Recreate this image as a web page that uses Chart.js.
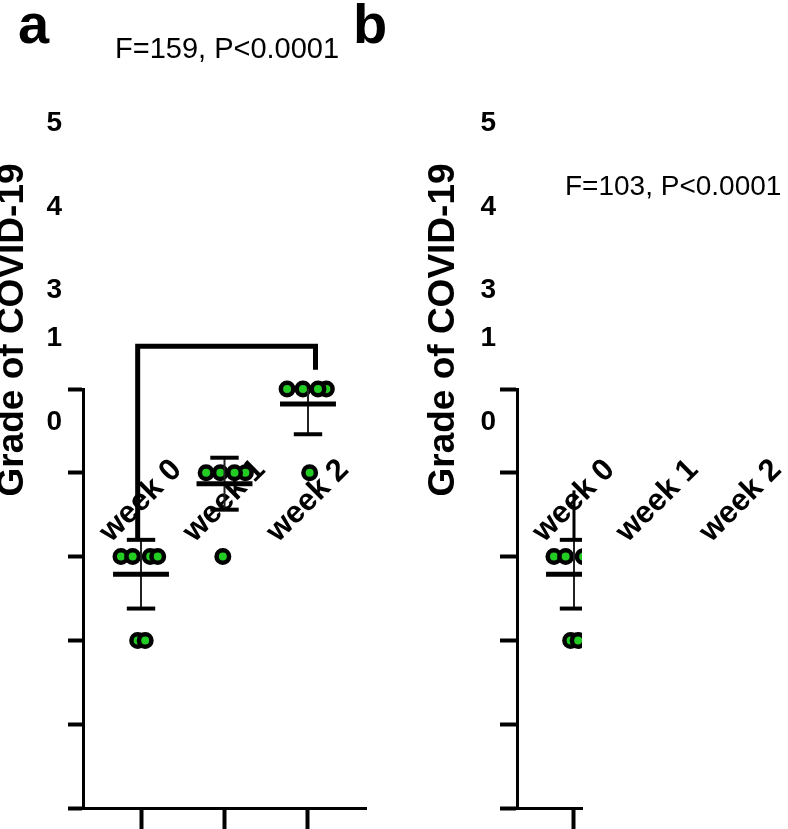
<!DOCTYPE html>
<html>
<head>
<meta charset="utf-8">
<title>Grade of COVID-19</title>
<script src="https://cdn.jsdelivr.net/npm/chart.js@4.4.1/dist/chart.umd.min.js"></script>
<style>
  html, body { margin: 0; padding: 0; background: #fff; }
  #wrap { position: relative; width: 788px; height: 829px; }
  #wrap canvas { position: absolute; left: 0; top: 0; }
</style>
</head>
<body>
<div id="wrap">
  <canvas id="panelA" width="788" height="829"></canvas>
  <canvas id="panelB" width="788" height="829"></canvas>
</div>
<script>
const weeks = ['week 0', 'week 1', 'week 2'];
// grade of each patient dot per week (overlapping dots as far as they can be seen)
const grades = [
    [3, 3, 3, 3, 2, 2],
    [4, 4, 4, 4, 3],
    [5, 5, 5, 5, 4]
];
// horizontal spread of each dot around its week, in week units
const jitter = [
    [-0.24, -0.10, 0.11, 0.20, -0.04, 0.05],
    [-0.22, -0.05, 0.25, 0.12, -0.02],
    [-0.25, -0.06, 0.22, 0.12, 0.02]
];
const means = [2.79, 3.87, 4.82];
const sds = [0.41, 0.31, 0.36];
const yTicksUpper = [5, 4, 3];
const yTicksLower = [1, 0];
// bracket between week 0 and week 2 (x in week units, y in grades)
const bracketX = [-0.04, 2.09];
const bracketY = [3.19, 5.51, 5.23];
const legB = [3.19, 3.79];

const FONT = "'Liberation Sans', Arial, sans-serif";
Chart.defaults.font.family = FONT;
Chart.defaults.color = '#000';

const MEAN_HALF = 0.335;
const CAP_HALF = 0.17;
const LABEL_SHIFT = 0.43;

const panelText = {
    id: 'panelText',
    afterDraw(chart, args, o) {
        const ctx = chart.ctx;
        ctx.save();
        ctx.fillStyle = '#000';
        ctx.textBaseline = 'alphabetic';
        ctx.font = 'bold 56px ' + FONT;
        ctx.fillText(o.letter, o.letterX, 43);
        ctx.font = o.statsSize + 'px ' + FONT;
        ctx.fillText(o.stats, o.statsX, o.statsY);
        ctx.translate(o.titleX, 330);
        ctx.rotate(-Math.PI / 2);
        ctx.font = 'bold 37px ' + FONT;
        ctx.textAlign = 'center';
        ctx.textBaseline = 'middle';
        ctx.fillText('Grade of COVID-19', 0, 0);
        ctx.restore();
    }
};

function seg(data, width, color, order, clip) {
    const ds = {
        data: data,
        showLine: true,
        borderColor: color,
        borderWidth: width,
        borderCapStyle: 'butt',
        pointRadius: 0,
        order: order
    };
    if (clip !== undefined) ds.clip = clip;
    return ds;
}

function buildDatasets(p) {
    const dots = [];
    weeks.forEach((w, i) => {
        grades[i].forEach((g, k) => dots.push({ x: i + jitter[i][k], y: g }));
    });
    const sets = [{
        data: dots,
        pointRadius: 6.25,
        pointBorderWidth: 4.5,
        pointBorderColor: '#000',
        pointBackgroundColor: '#22cc22',
        order: 3,
        clip: p.dotClip
    }];
    weeks.forEach((w, i) => {
        const lo = means[i] - sds[i];
        const hi = means[i] + sds[i];
        sets.push(seg([{ x: i, y: lo }, { x: i, y: hi }], 2, '#222', 2, p.barClip));
        sets.push(seg([{ x: i - CAP_HALF, y: hi }, { x: i + CAP_HALF, y: hi }], 4, '#000', 1, p.barClip));
        sets.push(seg([{ x: i - CAP_HALF, y: lo }, { x: i + CAP_HALF, y: lo }], 4, '#000', 1, p.barClip));
        sets.push(seg([{ x: i - MEAN_HALF, y: means[i] }, { x: i + MEAN_HALF, y: means[i] }], 5, '#000', 1, p.barClip));
    });
    if (p.bracket) {
        sets.push(seg([
            { x: bracketX[0], y: bracketY[0] },
            { x: bracketX[0], y: bracketY[1] },
            { x: bracketX[1], y: bracketY[1] },
            { x: bracketX[1], y: bracketY[2] }
        ], 5, '#000', 0, false));
    } else {
        sets.push(seg([{ x: 0, y: legB[0] }, { x: 0, y: legB[1] }], 3, '#000', 0, p.barClip));
    }
    return sets;
}

function labelAxis(p, values, offset) {
    return {
        type: 'linear',
        axis: 'y',
        position: { x: p.xMin - 0.25 },
        min: 0,
        max: 5,
        afterBuildTicks: s => { s.ticks = values.map(v => ({ value: v })); },
        ticks: { labelOffset: offset, padding: 0, color: '#000', font: { size: 28, weight: 'bold' } },
        grid: { display: false, drawTicks: false },
        border: { display: false }
    };
}

function makePanel(id, p) {
    new Chart(document.getElementById(id), {
        type: 'scatter',
        data: { datasets: buildDatasets(p) },
        options: {
            responsive: false,
            animation: false,
            events: [],
            layout: { autoPadding: false, padding: { left: p.padLeft, right: p.padRight, top: 389, bottom: 0 } },
            plugins: {
                legend: { display: false },
                tooltip: { enabled: false },
                panelText: p.text
            },
            scales: {
                x: {
                    type: 'linear',
                    position: 'bottom',
                    min: p.xMin,
                    max: p.xMax,
                    afterBuildTicks: s => {
                        s.ticks = weeks.map((w, i) => ({ value: i })).filter(t => t.value >= p.xMin && t.value <= p.xMax);
                    },
                    afterFit: s => { s.height = 21; },
                    ticks: { display: false },
                    grid: { drawOnChartArea: false, tickLength: 21, tickWidth: 4, tickColor: '#000' },
                    border: { color: '#000', width: 3 }
                },
                xl: {
                    type: 'linear',
                    axis: 'x',
                    position: { y: 4.25 },
                    min: p.xMin - LABEL_SHIFT,
                    max: p.xMax - LABEL_SHIFT,
                    afterBuildTicks: s => { s.ticks = weeks.map((w, i) => ({ value: i })); },
                    ticks: {
                        autoSkip: false,
                        minRotation: 45,
                        maxRotation: 45,
                        padding: 0,
                        color: '#000',
                        font: { size: 31, weight: 'bold' },
                        callback: (v, i) => weeks[i]
                    },
                    grid: { display: false, drawTicks: false },
                    border: { display: false }
                },
                y: {
                    type: 'linear',
                    position: 'left',
                    min: 0,
                    max: 5,
                    afterFit: s => { s.width = p.yTick; },
                    ticks: { display: false, stepSize: 1 },
                    grid: { drawOnChartArea: false, tickLength: p.yTick, tickWidth: 4, tickColor: '#000' },
                    border: { color: '#000', width: 3 }
                },
                yA: labelAxis(p, yTicksUpper, -266),
                yB: labelAxis(p, yTicksLower, -386)
            }
        },
        plugins: [panelText]
    });
}

makePanel('panelA', {
    xMin: -0.695, xMax: 2.695, padLeft: 68, padRight: 422, yTick: 15,
    dotClip: false, barClip: undefined, bracket: true,
    text: { letter: 'a', letterX: 18, stats: 'F=159, P<0.0001', statsSize: 29, statsX: 115, statsY: 58, titleX: 13 }
});

makePanel('panelB', {
    xMin: -0.683, xMax: 0.096, padLeft: 500, padRight: 206, yTick: 17,
    dotClip: 0, barClip: 0, bracket: false,
    text: { letter: 'b', letterX: 353, stats: 'F=103, P<0.0001', statsSize: 28, statsX: 565, statsY: 195, titleX: 444 }
});
</script>
</body>
</html>
